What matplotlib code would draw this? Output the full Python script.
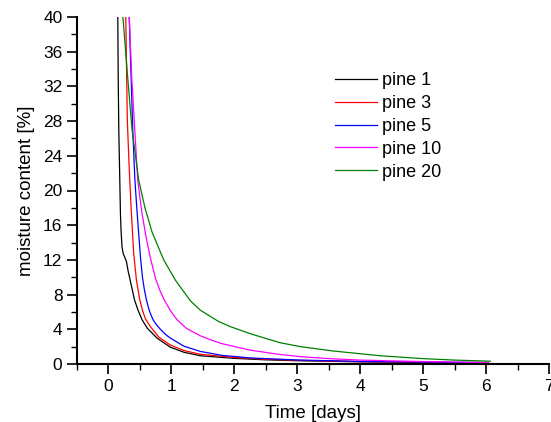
import matplotlib
matplotlib.use("Agg")
import matplotlib.pyplot as plt
from matplotlib.ticker import MultipleLocator

plt.rcParams['font.family'] = ['Liberation Sans', 'DejaVu Sans']

labels = ["pine 1", "pine 3", "pine 5", "pine 10", "pine 20"]
colors = ["#000000", "#ff0000", "#0000ff", "#ff00ff", "#008000"]

t_pine1 = [0.148, 0.155, 0.164, 0.18, 0.19, 0.20, 0.215, 0.235, 0.26, 0.286, 0.31, 0.35, 0.413, 0.47, 0.534, 0.62, 0.77, 0.98, 1.2, 1.46, 2.0, 2.5, 3.0, 4.0, 5.0, 6.03]
v_pine1 = [40.0, 33.0, 27.0, 21.2, 17.4, 15.4, 13.5, 12.7, 12.3, 11.8, 10.8, 9.5, 7.4, 6.2, 5.1, 4.1, 3.0, 1.95, 1.35, 0.95, 0.65, 0.48, 0.38, 0.25, 0.18, 0.13]

t_pine3 = [0.275, 0.30, 0.33, 0.36, 0.38, 0.40, 0.444, 0.497, 0.54, 0.587, 0.667, 0.80, 0.98, 1.2, 1.46, 2.0, 2.5, 3.05, 4.0, 5.0, 6.03]
v_pine3 = [40.0, 28.0, 22.5, 18.0, 15.4, 12.8, 9.7, 7.4, 6.2, 5.2, 4.3, 3.1, 2.2, 1.55, 1.12, 0.75, 0.55, 0.42, 0.28, 0.2, 0.14]

t_pine5 = [0.33, 0.36, 0.386, 0.42, 0.45, 0.476, 0.51, 0.54, 0.57, 0.603, 0.635, 0.667, 0.709, 0.76, 0.825, 0.90, 0.98, 1.2, 1.46, 1.8, 2.25, 3.05, 4.0, 5.0, 6.03]
v_pine5 = [40.0, 33.0, 27.0, 21.2, 18.0, 15.4, 12.2, 10.0, 8.6, 7.4, 6.5, 5.8, 5.1, 4.55, 4.0, 3.45, 3.0, 2.05, 1.45, 1.0, 0.7, 0.45, 0.3, 0.22, 0.16]

t_pine10 = [0.33, 0.37, 0.418, 0.465, 0.53, 0.598, 0.667, 0.746, 0.81, 0.878, 0.98, 1.09, 1.24, 1.46, 1.62, 1.8, 2.25, 2.7, 3.05, 3.5, 4.0, 5.0, 6.03]
v_pine10 = [40.0, 33.0, 27.0, 21.2, 17.5, 14.6, 12.2, 9.9, 8.6, 7.5, 6.2, 5.1, 4.1, 3.25, 2.8, 2.35, 1.6, 1.12, 0.85, 0.62, 0.45, 0.28, 0.18]

t_pine20 = [0.23, 0.30, 0.375, 0.48, 0.58, 0.693, 0.878, 1.06, 1.30, 1.46, 1.75, 1.94, 2.25, 2.52, 2.73, 3.05, 3.57, 4.32, 5.0, 5.5, 6.07]
v_pine20 = [40.0, 33.5, 27.0, 21.2, 18.0, 15.2, 12.0, 9.7, 7.3, 6.2, 4.9, 4.3, 3.5, 2.9, 2.45, 2.0, 1.5, 0.95, 0.62, 0.45, 0.32]

series_t = [t_pine1, t_pine3, t_pine5, t_pine10, t_pine20]
series_v = [v_pine1, v_pine3, v_pine5, v_pine10, v_pine20]

fig = plt.figure(figsize=(5.51, 4.22), dpi=100)
ax = fig.add_axes([77/551, 1-364/422, (549-77)/551, (364-17)/422])

for t, v, c, lab in zip(series_t, series_v, colors, labels):
    ax.plot(t, v, color=c, lw=0.9, label=lab)

ax.set_xlim(-0.5, 7)
ax.set_ylim(0, 40)
ax.xaxis.set_major_locator(MultipleLocator(1))
ax.xaxis.set_minor_locator(MultipleLocator(0.5))
ax.yaxis.set_major_locator(MultipleLocator(4))
ax.yaxis.set_minor_locator(MultipleLocator(2))

for s in ['top', 'right']:
    ax.spines[s].set_visible(False)
for s in ['left', 'bottom']:
    ax.spines[s].set_linewidth(1.5)

ax.tick_params(which='major', direction='out', length=7, width=1.2, labelsize=12.5)
ax.tick_params(which='minor', direction='out', length=4, width=1.0)

ax.set_xlabel("Time [days]", fontsize=13.5, labelpad=8)
ax.set_ylabel("moisture content [%]", fontsize=13.5, labelpad=6)

leg = ax.legend(loc='upper left', bbox_to_anchor=(330/551, 1-67/422), bbox_transform=fig.transFigure,
                frameon=False, fontsize=13, handlelength=2.3, handletextpad=0.3, labelspacing=0.32,
                borderaxespad=0, borderpad=0.3)

fig.savefig("out.png", dpi=100)
